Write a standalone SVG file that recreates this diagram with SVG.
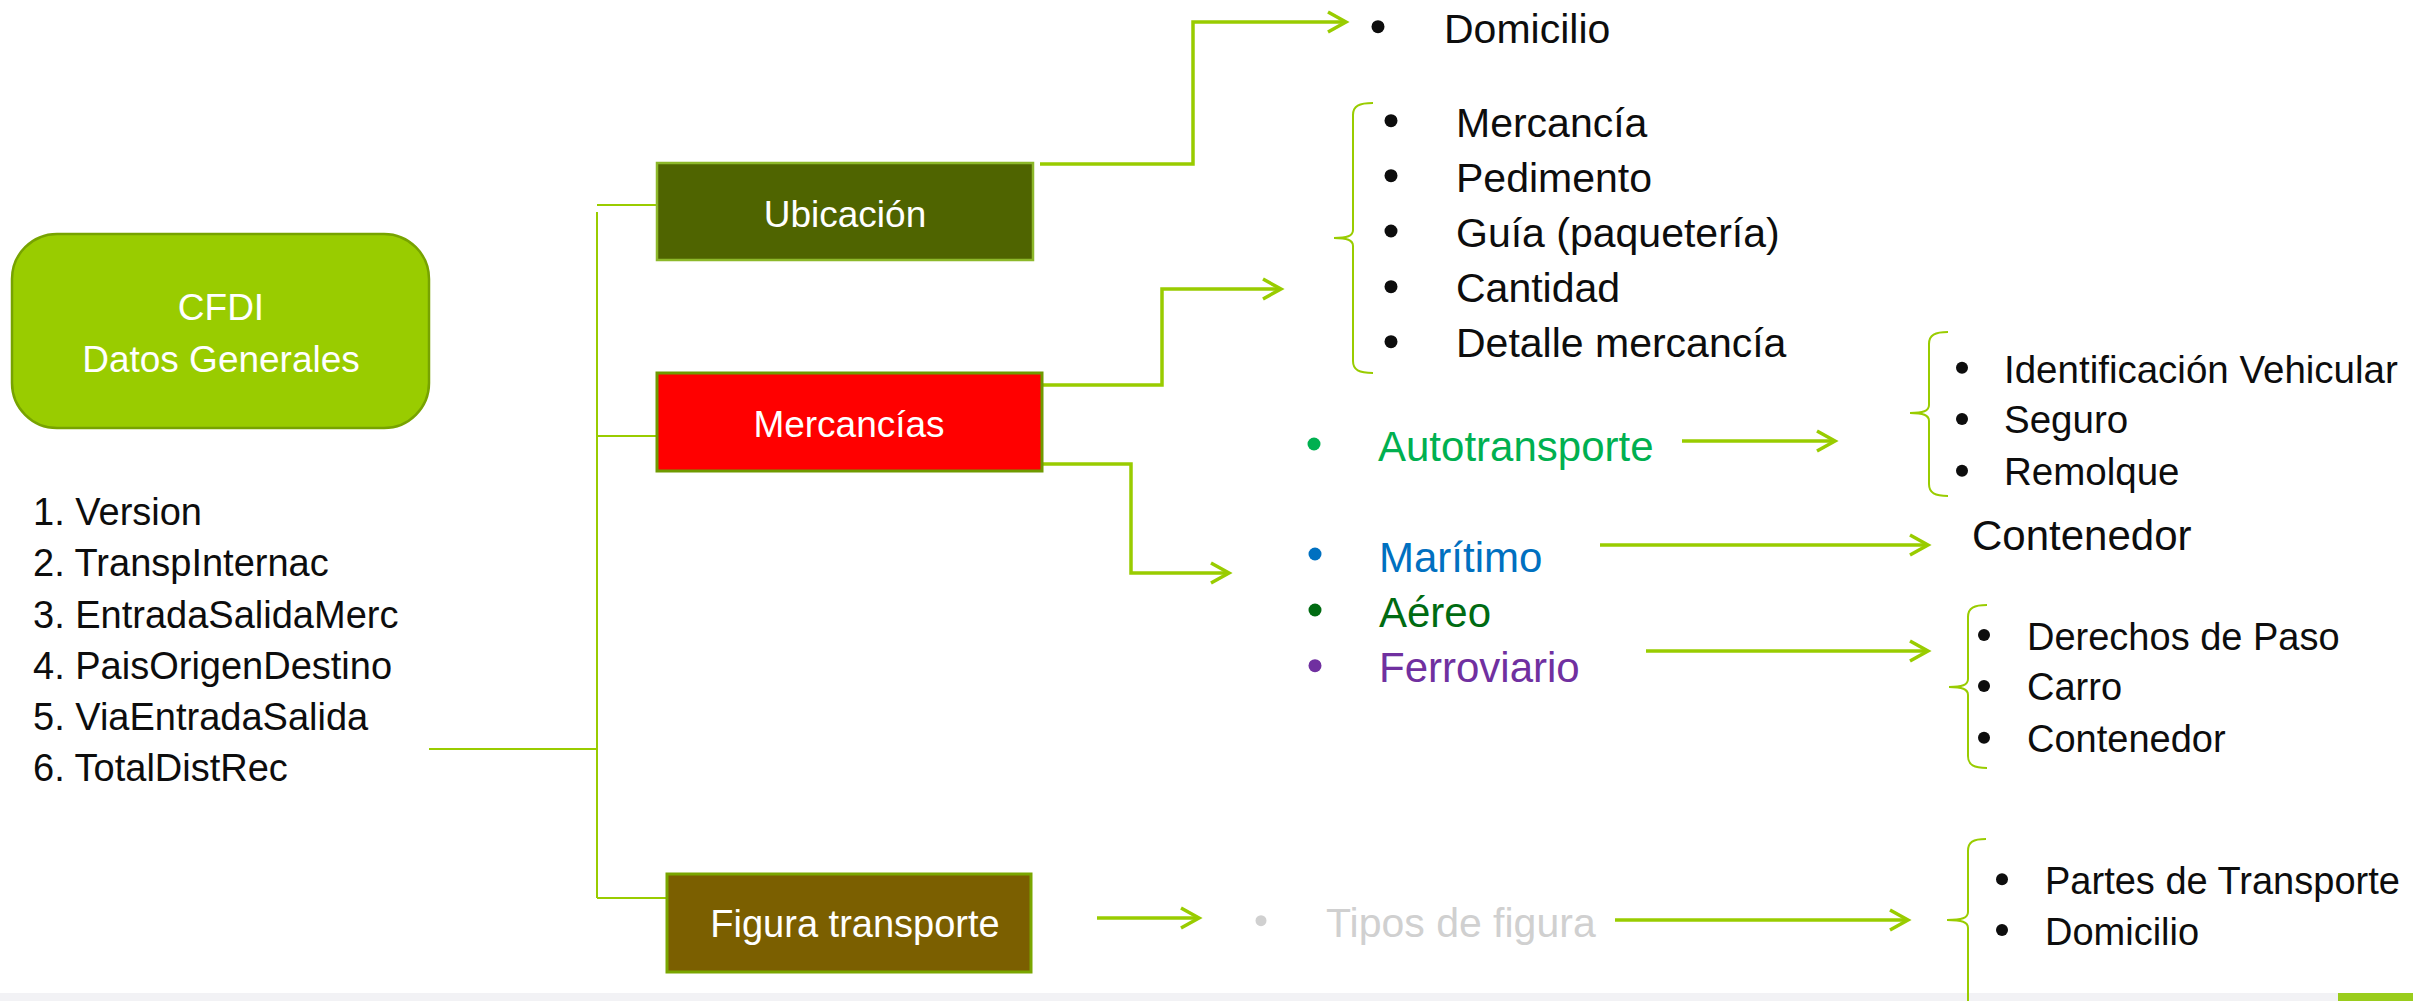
<svg xmlns="http://www.w3.org/2000/svg" width="2413" height="1001" viewBox="0 0 2413 1001">
<style>
text{font-family:"Liberation Sans",Arial,sans-serif;}
.w{fill:#ffffff;text-anchor:middle;}
.k{fill:#0d0d0d;}
.ln{fill:none;stroke:#99CC00;stroke-width:2;}
.ar{fill:none;stroke:#99CC00;stroke-width:3.5;marker-end:url(#arr);}
.br{fill:none;stroke:#99CC00;stroke-width:2;}
</style>
<defs>
<marker id="arr" markerUnits="userSpaceOnUse" markerWidth="26" markerHeight="26" viewBox="-22 -13 26 26" refX="0" refY="0" orient="auto">
<path d="M-18,-10 L0,0 L-18,10" fill="none" stroke="#99CC00" stroke-width="3.5"/>
</marker>
</defs>
<rect x="0" y="0" width="2413" height="1001" fill="#ffffff"/>
<rect x="0" y="993" width="2338" height="8" fill="#F2F2F5"/>
<rect x="2338" y="993" width="75" height="8" fill="#9ACD1C"/>

<g id="connectors">
<path class="ln" d="M429,749 H597 M597,212 V898 M597,205 H657 M597,436 H657 M597,898 H667"/>
<path class="ar" d="M1040,164 H1193 V22 H1346"/>
<path class="ar" d="M1042,385 H1162 V289 H1281"/>
<path class="ar" d="M1031,464 H1131 V573 H1229"/>
<path class="ar" d="M1682,441 H1835"/>
<path class="ar" d="M1600,545 H1928"/>
<path class="ar" d="M1646,651 H1928"/>
<path class="ar" d="M1097,918 H1199"/>
<path class="ar" d="M1615,920 H1908"/>
<path class="br" d="M1373,103 C1359,103 1353,106 1353,115 V230 C1353,236 1347,238 1334,238 C1347,238 1353,240 1353,246 V361 C1353,370 1359,373 1373,373"/>
<path class="br" d="M1948,332 C1935,332 1929,335 1929,344 V405 C1929,411 1923,413 1910,413 C1923,413 1929,415 1929,421 V484 C1929,493 1935,496 1948,496"/>
<path class="br" d="M1987,605 C1974,605 1968,608 1968,617 V679 C1968,685 1962,687 1949,687 C1962,687 1968,689 1968,695 V756 C1968,765 1974,768 1987,768"/>
<path class="br" d="M1986,839 C1973,839 1968,842 1968,851 V912 C1968,918 1962,920 1947,920 C1962,920 1968,922 1968,928 V1010"/>
</g>

<g id="node-cfdi">
<rect x="12" y="234" width="417" height="194" rx="45" ry="45" fill="#99CC00" stroke="#77A300" stroke-width="2.5"/>
<text class="w" x="221" y="320" font-size="37">CFDI</text>
<text class="w" x="221" y="372" font-size="37">Datos Generales</text>
</g>

<g id="node-datos-list">
<text class="k" x="33" y="525" font-size="38">1. Version</text>
<text class="k" x="33" y="576" font-size="38">2. TranspInternac</text>
<text class="k" x="33" y="627.5" font-size="38">3. EntradaSalidaMerc</text>
<text class="k" x="33" y="678.5" font-size="38">4. PaisOrigenDestino</text>
<text class="k" x="33" y="730" font-size="38">5. ViaEntradaSalida</text>
<text class="k" x="33" y="781" font-size="38">6. TotalDistRec</text>
</g>

<g id="node-ubicacion">
<rect x="657" y="163" width="376" height="97" fill="#4F6400" stroke="#8DB82A" stroke-width="2.5"/>
<text class="w" x="845" y="227" font-size="37">Ubicación</text>
</g>

<g id="node-mercancias">
<rect x="657" y="373" width="385" height="98" fill="#FF0000" stroke="#6F9A00" stroke-width="3"/>
<text class="w" x="849" y="437" font-size="37">Mercancías</text>
</g>

<g id="node-figura">
<rect x="667" y="874" width="364" height="98" fill="#7B5F00" stroke="#7AA600" stroke-width="3"/>
<text class="w" x="855" y="937" font-size="38">Figura transporte</text>
</g>

<g id="node-domicilio">
<circle cx="1378" cy="26.7" r="6.5" fill="#0d0d0d"/>
<text class="k" x="1444" y="43" font-size="41">Domicilio</text>
</g>

<g id="node-mercancia-list" fill="#0d0d0d">
<circle cx="1391" cy="120.7" r="6.5"/>
<circle cx="1391" cy="175.7" r="6.5"/>
<circle cx="1391" cy="231" r="6.5"/>
<circle cx="1391" cy="286.7" r="6.5"/>
<circle cx="1391" cy="341.7" r="6.5"/>
<text class="k" x="1456" y="136.7" font-size="41">Mercancía</text>
<text class="k" x="1456" y="191.7" font-size="41">Pedimento</text>
<text class="k" x="1456" y="246.7" font-size="41">Guía (paquetería)</text>
<text class="k" x="1456" y="301.7" font-size="41">Cantidad</text>
<text class="k" x="1456" y="356.7" font-size="41">Detalle mercancía</text>
</g>

<g id="node-autotransporte">
<circle cx="1314" cy="444" r="6.5" fill="#00B050"/>
<text x="1378" y="461" font-size="42" fill="#00B050">Autotransporte</text>
</g>

<g id="node-autotransporte-list" fill="#0d0d0d">
<circle cx="1962" cy="367.7" r="6"/>
<circle cx="1962" cy="419" r="6"/>
<circle cx="1962" cy="470.7" r="6"/>
<text class="k" x="2004" y="382.7" font-size="38.5">Identificación Vehicular</text>
<text class="k" x="2004" y="433.3" font-size="38.5">Seguro</text>
<text class="k" x="2004" y="485" font-size="38.5">Remolque</text>
</g>

<g id="node-modos">
<circle cx="1315" cy="554" r="6.5" fill="#0070C0"/>
<circle cx="1315" cy="610" r="6.5" fill="#006B12"/>
<circle cx="1315" cy="665.7" r="6.5" fill="#7030A0"/>
<text x="1379" y="571.7" font-size="42" fill="#0070C0">Marítimo</text>
<text x="1379" y="626.7" font-size="42" fill="#006B12">Aéreo</text>
<text x="1379" y="681.7" font-size="42" fill="#7030A0">Ferroviario</text>
</g>

<g id="node-contenedor">
<text class="k" x="1972" y="550" font-size="42">Contenedor</text>
</g>

<g id="node-ferroviario-list" fill="#0d0d0d">
<circle cx="1984" cy="635" r="6"/>
<circle cx="1984" cy="686" r="6"/>
<circle cx="1984" cy="737.7" r="6"/>
<text class="k" x="2027" y="650" font-size="38">Derechos de Paso</text>
<text class="k" x="2027" y="700" font-size="38">Carro</text>
<text class="k" x="2027" y="751.7" font-size="38">Contenedor</text>
</g>

<g id="node-tipos-figura">
<circle cx="1261" cy="920.7" r="5.5" fill="#D0D0D0"/>
<text x="1326" y="937" font-size="41" fill="#D0D0D0">Tipos de figura</text>
</g>

<g id="node-figura-list" fill="#0d0d0d">
<circle cx="2002" cy="879.3" r="6"/>
<circle cx="2002" cy="930" r="6"/>
<text class="k" x="2045" y="894" font-size="38">Partes de Transporte</text>
<text class="k" x="2045" y="945" font-size="38">Domicilio</text>
</g>
</svg>
